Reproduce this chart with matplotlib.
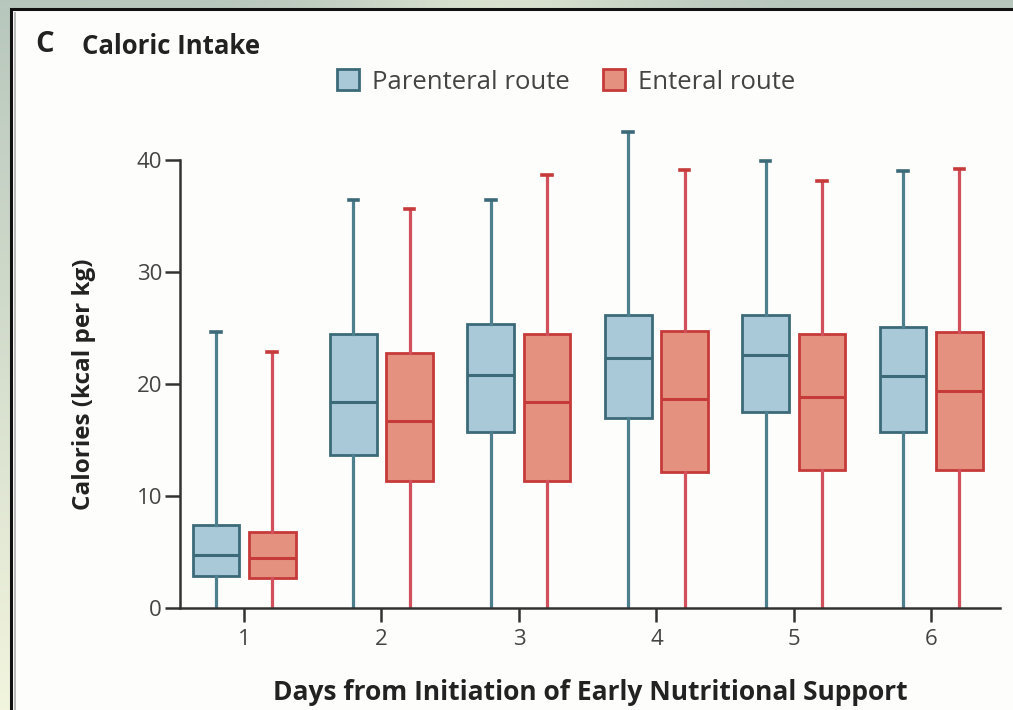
import numpy as np
import matplotlib
matplotlib.use("Agg")
import matplotlib.pyplot as plt
from matplotlib.patches import Patch, Rectangle

plt.rcParams["font.family"] = ["Open Sans", "DejaVu Sans"]

# Daily calorie intake (kcal per kg): box-plot summary per route
days = [1, 2, 3, 4, 5, 6]
parenteral_low = [0, 0, 0, 0, 0, 0]
parenteral_q1 = [2.9, 13.7, 15.7, 17.0, 17.5, 15.7]
parenteral_med = [4.7, 18.4, 20.8, 22.3, 22.6, 20.7]
parenteral_q3 = [7.4, 24.5, 25.4, 26.2, 26.2, 25.1]
parenteral_high = [24.6, 36.4, 36.4, 42.5, 39.9, 39.0]

enteral_low = [0, 0, 0, 0, 0, 0]
enteral_q1 = [2.7, 11.3, 11.3, 12.1, 12.3, 12.3]
enteral_med = [4.5, 16.7, 18.4, 18.7, 18.8, 19.4]
enteral_q3 = [6.8, 22.8, 24.5, 24.7, 24.5, 24.6]
enteral_high = [22.9, 35.6, 38.7, 39.1, 38.1, 39.2]

W, H = 1013, 710
fig = plt.figure(figsize=(W / 100, H / 100), dpi=100)

# slide backdrop behind the figure panel
bg = fig.add_axes([0, 0, 1, 1], zorder=-10)
yy, xx = np.mgrid[0:H, 0:W]
t = yy / H
top_col = np.array([0.72, 0.78, 0.74])
bot_col = np.array([0.95, 0.96, 0.87])
img = top_col[None, None, :] * (1 - t[..., None]) + bot_col[None, None, :] * t[..., None]
mid = np.exp(-((xx - 500) / 160.0) ** 2)[..., None]
img = img * (1 - 0.6 * mid) + np.array([0.94, 0.95, 0.86]) * 0.6 * mid
bg.imshow(img, extent=(0, W, H, 0), aspect="auto")
bg.set_xlim(0, W)
bg.set_ylim(H, 0)
bg.axis("off")
bg.add_patch(Rectangle((11, 9), W + 20, H + 20, facecolor="#fdfdfb",
                       edgecolor="#111111", linewidth=2.2))
bg.add_patch(Rectangle((13.5, 11.5), 2.5, H, facecolor="#bbbbbb", edgecolor="none"))

y_top = 43.5
px_per_unit = 11.2
ax_h = y_top * px_per_unit
ax = fig.add_axes([180 / W, 1 - 608 / H, 820 / W, ax_h / H])
ax.set_facecolor("none")

blue_fill, blue_edge = "#a9c8d8", "#3c6a79"
red_fill, red_edge = "#e4927f", "#c63a3a"
offset, width = 0.205, 0.34


def stats(low, q1, med, q3, high):
    return [dict(whislo=a, q1=b, med=c, q3=d, whishi=e, fliers=[])
            for a, b, c, d, e in zip(low, q1, med, q3, high)]


for st, shift, fill, edge, wcol in [
    (stats(parenteral_low, parenteral_q1, parenteral_med, parenteral_q3, parenteral_high),
     -offset, blue_fill, blue_edge, "#4d7f8d"),
    (stats(enteral_low, enteral_q1, enteral_med, enteral_q3, enteral_high),
     offset, red_fill, red_edge, "#d2505c"),
]:
    parts = ax.bxp(st, positions=np.array(days) + shift, widths=width, patch_artist=True,
                   showfliers=False, capwidths=0.07,
                   boxprops=dict(facecolor=fill, edgecolor=edge, linewidth=2.0),
                   medianprops=dict(color=edge, linewidth=2.2),
                   whiskerprops=dict(color=wcol, linewidth=2.3),
                   capprops=dict(color=edge, linewidth=2.6))
    # lower caps sit on the baseline; hide them
    for cap in parts["caps"][::2]:
        cap.set_visible(False)

ax.set_xlim(0.534, 6.5)
ax.set_ylim(0, y_top)
ax.set_xticks(days)
ax.set_xticklabels([str(d) for d in days])
ax.set_yticks([0, 10, 20, 30, 40])
for s in ["top", "right"]:
    ax.spines[s].set_visible(False)
for s in ["left", "bottom"]:
    ax.spines[s].set_color("#333333")
    ax.spines[s].set_linewidth(1.8)
    ax.spines[s].set_zorder(3)
ax.spines["left"].set_bounds(0, 40)
ax.tick_params(axis="y", length=11, width=1.8, color="#333333", labelsize=16,
               labelcolor="#444444", pad=2)
ax.tick_params(axis="x", length=10, width=1.8, color="#333333", labelsize=16,
               labelcolor="#444444", pad=5)

ax.set_xlabel("Days from Initiation of Early Nutritional Support", fontsize=19,
              fontweight="bold", color="#222222")
ax.xaxis.set_label_coords(0.5, -0.145)
ax.set_ylabel("Calories (kcal per kg)", fontsize=17.5, fontweight="bold",
              color="#222222")
ax.yaxis.set_label_coords(-0.102, 20 / y_top)

fig.text(35 / W, 1 - 45 / H, "C", fontsize=21, fontweight="bold",
         color="#222222", va="center")
fig.text(82 / W, 1 - 46 / H, "Caloric Intake", fontsize=18.5, fontweight="bold",
         color="#222222", va="center")

handles = [Patch(facecolor=blue_fill, edgecolor=blue_edge, linewidth=2.0, label="Parenteral route"),
           Patch(facecolor=red_fill, edgecolor=red_edge, linewidth=2.0, label="Enteral route")]
leg = fig.legend(handles=handles, loc="center", bbox_to_anchor=(566 / W, 1 - 82 / H),
                 ncol=2, frameon=False, fontsize=18.5, handlelength=0.85, handleheight=0.85,
                 handletextpad=0.5, columnspacing=1.3, borderpad=0)
for txt in leg.get_texts():
    txt.set_color("#444444")

fig.savefig("out.png", dpi=100)
